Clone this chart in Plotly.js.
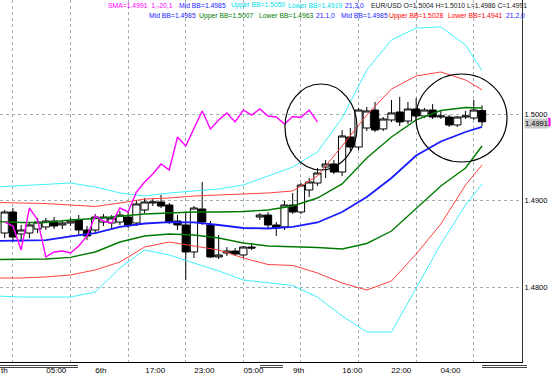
<!DOCTYPE html>
<html><head><meta charset="utf-8">
<script src="https://cdn.plot.ly/plotly-3.0.1.min.js"></script>
<style>html,body{margin:0;padding:0;background:#fff;} #chart{width:555px;height:380px;}</style>
</head><body><div id="chart"></div>
<script>
// EUR/USD candles (bar index order)
const openP = [1.48624,1.48867,1.48613,1.48624,1.48670,1.48694,1.48763,1.48717,1.48740,1.48775,
  1.48659,1.48659,1.48751,1.48740,1.48751,1.48809,1.48740,1.48890,1.48971,1.48983,
  1.48948,1.48763,1.48717,1.48405,1.48902,1.48717,1.48347,1.48393,1.48416,1.48370,
  1.48462,1.48809,1.48832,1.48717,1.48694,1.48948,1.48867,1.49121,1.49202,1.49387,
  1.49422,1.49329,1.49734,1.49618,1.49838,1.50046,1.49827,1.49931,1.50023,1.49919,
  1.50058,1.49977,1.50046,1.49965,1.49965,1.49873,1.49965,1.49954,1.50040];
const highP = [1.48890,1.48913,1.48717,1.48751,1.48798,1.48798,1.48809,1.48775,1.48798,1.48832,
  1.48705,1.48844,1.48844,1.48832,1.48879,1.48867,1.49006,1.49029,1.49017,1.49064,
  1.48971,1.48832,1.48867,1.48936,1.49214,1.48763,1.48601,1.48462,1.48451,1.48474,
  1.48509,1.48855,1.48867,1.48751,1.48994,1.49087,1.49202,1.49260,1.49376,1.49468,
  1.49468,1.49815,1.49838,1.50069,1.50081,1.50139,1.49965,1.50162,1.50197,1.50139,
  1.50185,1.50069,1.50116,1.50035,1.49988,1.49977,1.50035,1.50162,1.50100];
const lowP = [1.48566,1.48520,1.48520,1.48566,1.48624,1.48659,1.48670,1.48670,1.48705,1.48590,
  1.48543,1.48624,1.48705,1.48682,1.48717,1.48682,1.48705,1.48855,1.48936,1.48913,
  1.48728,1.48659,1.48081,1.48335,1.48717,1.48335,1.48324,1.48358,1.48358,1.48335,
  1.48428,1.48775,1.48682,1.48590,1.48659,1.48844,1.48844,1.49040,1.49168,1.49260,
  1.49306,1.49283,1.49572,1.49584,1.49803,1.49792,1.49803,1.49908,1.49861,1.49884,
  1.49954,1.49954,1.49942,1.49942,1.49850,1.49850,1.49942,1.49931,1.49860];
const closeP = [1.48867,1.48578,1.48659,1.48717,1.48751,1.48763,1.48705,1.48740,1.48763,1.48659,
  1.48590,1.48809,1.48809,1.48798,1.48832,1.48717,1.48960,1.48983,1.48983,1.48936,
  1.48751,1.48717,1.48405,1.48913,1.48751,1.48347,1.48370,1.48416,1.48381,1.48462,
  1.48451,1.48832,1.48717,1.48682,1.48948,1.48867,1.49179,1.49214,1.49318,1.49422,
  1.49329,1.49746,1.49618,1.50046,1.50035,1.49815,1.49942,1.50012,1.49908,1.50058,
  1.49977,1.50046,1.49965,1.49977,1.49873,1.49965,1.49977,1.50046,1.49910];

// SMA(1) shifted -20 (magenta)
const smaShift = [1.48751,1.48705,1.48428,1.48913,1.48775,1.48347,1.48405,1.48416,1.48393,1.48474,
  1.48590,1.48821,1.48763,1.48740,1.48913,1.48867,1.49098,1.49214,1.49306,1.49422,
  1.49353,1.49734,1.49630,1.49838,1.50035,1.49827,1.49931,1.50012,1.49908,1.50046,
  1.49988,1.50058,1.49977,1.49965,1.49884,1.49971,1.49960,1.50046,1.49910];

// Bollinger bands (21) sampled at these bar indices
const bandX = [-1,2,5,8,11,14,17,20,23,26,29,32,35,38,41,44,47,50,53,56,58];
const midBB = [1.48532,1.48538,1.48543,1.48584,1.48624,1.48694,1.48734,1.48751,1.48746,1.48717,
  1.48682,1.48676,1.48694,1.48746,1.48867,1.49040,1.49260,1.49520,1.49682,1.49792,1.49850];
const up1 = [1.48757,1.48746,1.48746,1.48775,1.48792,1.48821,1.48844,1.48855,1.48867,1.48867,
  1.48873,1.48890,1.48936,1.49029,1.49191,1.49491,1.49734,1.49931,1.50040,1.50075,1.50070];
const lo1 = [1.48318,1.48320,1.48324,1.48343,1.48405,1.48520,1.48590,1.48613,1.48601,1.48566,
  1.48509,1.48474,1.48468,1.48457,1.48439,1.48503,1.48647,1.48902,1.49168,1.49376,1.49630];
const up2 = [1.48977,1.48971,1.48965,1.48948,1.48931,1.48971,1.49017,1.49029,1.49052,1.49064,
  1.49075,1.49087,1.49110,1.49283,1.49630,1.49988,1.50289,1.50439,1.50486,1.50393,1.50280];
const lo2 = [1.48104,1.48104,1.48116,1.48139,1.48197,1.48289,1.48462,1.48520,1.48474,1.48428,
  1.48335,1.48260,1.48249,1.48162,1.48046,1.47965,1.48069,1.48381,1.48728,1.49179,1.49410];
const up3 = [1.49156,1.49173,1.49191,1.49202,1.49156,1.49087,1.49052,1.49087,1.49110,1.49133,
  1.49179,1.49283,1.49387,1.49561,1.49954,1.50509,1.50856,1.50994,1.51006,1.50798,1.50500];
const lo3 = [1.47896,1.47884,1.47884,1.47884,1.47942,1.48220,1.48428,1.48370,1.48277,1.48185,
  1.48081,1.48046,1.48017,1.47884,1.47665,1.47480,1.47480,1.47988,1.48497,1.48948,1.49190];

// Axis labels
const tickLabels = ['th','05:00','6th','17:00','23:00','05:00','9th','16:00','22:00','04:00'];
const tickPos = [-0.04,6.27,11.69,18.29,24.26,30.23,35.72,42.25,48.19,54.17];
const priceTicks = [1.48,1.49,1.50];
const priceTickText = ['1.4800','1.4900','1.5000'];
const lastPrice = 1.4991;

const barX = closeP.map((_, i) => i);
const smaX = smaShift.map((_, i) => i);
const gridBars = [1,8,15,22,29,36,43,50,57];

const BLUE='#1a1aff', GREEN='#007a00', RED='#ff4040', CYAN='#3ff0f8', MAG='#ff00ff';
const line = (y, color, w) => ({type:'scatter', mode:'lines', x:bandX, y:y, line:{color:color, width:w}, hoverinfo:'skip'});

const traces = [
  {type:'candlestick', x:barX, open:openP, high:highP, low:lowP, close:closeP,
   increasing:{line:{color:'#000', width:1}, fillcolor:'#ffffff'},
   decreasing:{line:{color:'#000', width:1}, fillcolor:'#000000'},
   whiskerwidth:0, hoverinfo:'skip'},
  line(up3, CYAN, 1), line(lo3, CYAN, 1),
  line(up2, RED, 1), line(lo2, RED, 1),
  line(up1, GREEN, 1.4), line(lo1, GREEN, 1.4),
  line(midBB, BLUE, 1.8),
  {type:'scatter', mode:'lines', x:smaX, y:smaShift, line:{color:MAG, width:1.4}, hoverinfo:'skip'}
];

const W = 522, H = 362;
const px = v => v / W, py = v => 1 - v / H;
const FONT = 'Liberation Sans, Arial, sans-serif';
const txt = (t, color, left, row) => ({text:t, xref:'paper', yref:'paper', x:px(left), y:py(row===1?5:15.5),
  xanchor:'left', yanchor:'middle', showarrow:false, borderpad:0, font:{family:FONT, size:6.8, color:color}});

const annotations = [
  txt('SMA=1.4991  1,-20,1', MAG, 107, 1),
  txt('Mid BB=1.4985', '#2222ff', 178.3, 1), txt('Upper BB=1.5050', '#00dde8', 230, 1),
  txt('Lower BB=1.4919', '#00dde8', 286.5, 1), txt('21,3,0', '#2222ff', 344, 1),
  txt('EUR/USD O=1.5004 H=1.5010 L=1.4986 C=1.4991', '#202020', 369.5, 1),
  txt('Mid BB=1.4985', '#2222ff', 148.3, 2), txt('Upper BB=1.5007', '#007a00', 198.3, 2),
  txt('Lower BB=1.4963', '#007a00', 258, 2), txt('21,1,0', '#2222ff', 315, 2),
  txt('Mid BB=1.4985', '#2222ff', 340, 2), txt('Upper BB=1.5028', '#ff0000', 388.3, 2),
  txt('Lower BB=1.4941', '#ff0000', 447, 2), txt('21,2,0', '#2222ff', 505, 2),
  {text:lastPrice.toFixed(4), xref:'paper', yref:'paper', x:px(524), y:py(117.8), xanchor:'left', yanchor:'top',
   showarrow:false, bgcolor:'#c8c8c8', borderpad:0, font:{family:FONT, size:7.5, color:'#000'}}
];

const shapes = [
  {type:'circle', xref:'paper', yref:'paper', x0:px(285), x1:px(357), y0:py(170), y1:py(84), line:{color:'#000', width:1.2}},
  {type:'circle', xref:'paper', yref:'paper', x0:px(416), x1:px(507), y0:py(162), y1:py(74), line:{color:'#000', width:1.2}},
  {type:'rect', xref:'paper', yref:'paper', x0:px(548), x1:px(550.5), y0:py(126.5), y1:py(117.8), fillcolor:MAG, line:{width:0}},
];
[[0,78],[260,283],[482,527]].forEach(([a,b]) => {
  [365.5, 367.5].forEach(yy => shapes.push({type:'line', xref:'paper', yref:'paper', x0:px(a), x1:px(b), y0:py(yy), y1:py(yy), line:{color:'#444', width:1}}));
});

const xr = [-0.571, 62.86];
const layout = {
  width:555, height:380, margin:{l:0, r:33, t:0, b:18, pad:0},
  paper_bgcolor:'#fff', plot_bgcolor:'#fff', showlegend:false,
  font:{family:FONT, size:8, color:'#000'},
  boxgap:0.12, boxgroupgap:0,
  xaxis:{range:xr, tickvals:tickPos, ticktext:tickLabels, showgrid:false, zeroline:false, ticks:'',
    showline:true, linecolor:'#000', linewidth:1, rangeslider:{visible:false}, fixedrange:true,
    tickfont:{family:FONT, size:8, color:'#000'}, tickangle:0,
    minor:{tickmode:'array', tickvals:gridBars, showgrid:true, gridcolor:'#9fb0b0', griddash:'dot', gridwidth:1, ticks:''}},
  yaxis:{side:'right', range:[1.471329, 1.513179], tickvals:priceTicks, ticktext:priceTickText,
    showgrid:true, gridcolor:'#9fb0b0', griddash:'dot', gridwidth:1, zeroline:false, ticks:'',
    showline:true, linecolor:'#333', linewidth:1, tickfont:{family:FONT, size:7.5, color:'#000'}},
  annotations:annotations, shapes:shapes
};

Plotly.newPlot('chart', traces, layout, {staticPlot:true, displayModeBar:false});
</script></body></html>
